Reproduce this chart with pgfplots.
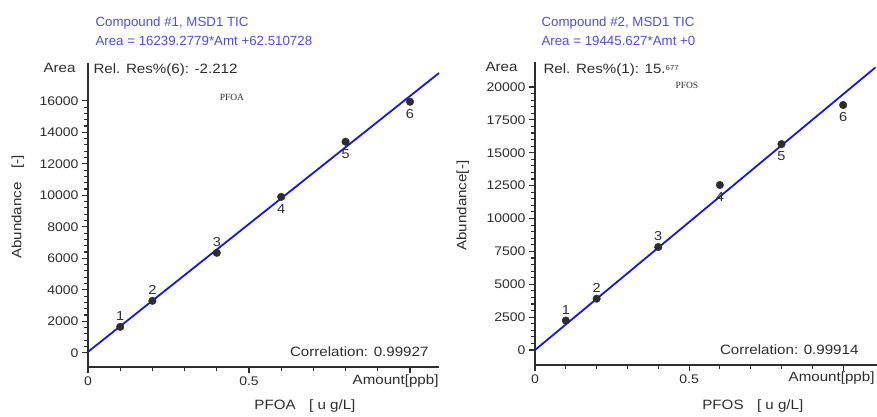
\documentclass[border=0pt]{standalone}
\usepackage{fontspec}
\setmainfont{Liberation Sans}
\newfontfamily\wide[FakeStretch=1.12]{Liberation Sans}
\newfontfamily\smallserif{Liberation Serif}
\usepackage{pgfplots}
\pgfplotsset{compat=1.18}
\definecolor{fitblue}{RGB}{20,20,235}
\definecolor{titleblue}{RGB}{75,75,245}
\definecolor{axisgray}{RGB}{45,45,45}

\tikzset{
  txt/.style={text=axisgray, font=\wide\fontsize{13.5}{15}\selectfont},
  ttl/.style={anchor=base west, text=titleblue, font=\fontsize{13.3}{15}\selectfont},
  tiny/.style={text=axisgray, font=\smallserif\fontsize{9.5}{11}\selectfont},
}

\pgfplotsset{
  calib/.style={
    scale only axis,
    axis lines*=left,
    clip=false,
    axis line style={axisgray, line width=1.4pt},
    tick style={axisgray, line width=1.1pt},
    tick align=outside,
    major tick length=6pt,
    minor tick length=4pt,
    minor x tick num=4,
    minor y tick num=4,
    /pgf/number format/1000 sep={},
    /pgf/number format/assume math mode=true,
    scaled y ticks=false,
    tick label style={font=\wide\fontsize{12.5}{14}\selectfont, text=axisgray},
    xtick={0,0.5,1},
    xticklabels={0,0.5,{}},
    xmin=0,
  },
  fitline/.style={fitblue, line width=1.8pt, no marks},
  pts/.style={only marks, mark=*, mark size=3.8pt, axisgray,
    point meta=explicit symbolic, nodes near coords,
    every node near coord/.append style={font=\wide\fontsize{13}{15}\selectfont, text=axisgray}},
  ptsup/.style={pts, every node near coord/.append style={anchor=south, yshift=3pt}},
  ptsdown/.style={pts, every node near coord/.append style={anchor=north, yshift=-4pt}},
}

\begin{document}
\begin{tikzpicture}
\useasboundingbox (0pt,0pt) rectangle (877pt,416pt);

% left panel: PFOA
\begin{axis}[calib, at={(88pt,49pt)}, anchor=south west, width=351pt, height=304pt,
  xmax=1.09, ymin=-900, ymax=18400,
  ytick={0,2000,4000,6000,8000,10000,12000,14000,16000}]
  \addplot[fitline] coordinates {(0,62.51) (1.09,17763.4)};
  \addplot[ptsup] coordinates {(0.1,1650) [1] (0.2,3300) [2] (0.4,6350) [3]};
  \addplot[ptsdown] coordinates {(0.6,9900) [4] (0.8,13400) [5] (1.0,15940) [6]};
  \node[ttl] at ([xshift=4pt, yshift=36.5pt]rel axis cs:0,1) {Compound \#1, MSD1 TIC};
  \node[ttl] at ([xshift=4pt, yshift=17.5pt]rel axis cs:0,1) {Area = 16239.2779*Amt +62.510728};
  \node[txt, anchor=east] at ([xshift=-9pt, yshift=-5pt]rel axis cs:0,1) {Area};
  \node[txt, anchor=west] at ([xshift=2pt, yshift=-7pt]rel axis cs:0,1) {Rel. Res\%(6): -2.212};
  \node[tiny] at (rel axis cs:0.41,0.888) {PFOA};
  \node[txt, anchor=east] at ([xshift=-7pt, yshift=15pt]rel axis cs:1,0) {Correlation: 0.99927};
  \node[txt, anchor=east] at ([xshift=3pt, yshift=-14pt]rel axis cs:1,0) {Amount[ppb]};
  \node[txt] at ([yshift=-39pt]rel axis cs:0.618,0) {PFOA\quad[ u g/L]};
  \node[txt, rotate=90] at ([xshift=-70pt]rel axis cs:0,0.526) {Abundance\quad[-]};
\end{axis}

% right panel: PFOS
\begin{axis}[calib, at={(535pt,51pt)}, anchor=south west, width=342pt, height=303pt,
  xmax=1.11, ymin=-1140, ymax=21900,
  ytick={0,2500,5000,7500,10000,12500,15000,17500,20000}]
  \addplot[fitline] coordinates {(0,0) (1.105,21487.4)};
  \addplot[ptsup] coordinates {(0.1,2240) [1] (0.2,3900) [2] (0.4,7830) [3]};
  \addplot[ptsdown] coordinates {(0.6,12550) [4] (0.8,15660) [5] (1.0,18630) [6]};
  \node[ttl] at ([xshift=3pt, yshift=35pt]rel axis cs:0,1) {Compound \#2, MSD1 TIC};
  \node[ttl] at ([xshift=3pt, yshift=16pt]rel axis cs:0,1) {Area = 19445.627*Amt +0};
  \node[txt, anchor=east] at ([xshift=-14pt, yshift=-5pt]rel axis cs:0,1) {Area};
  \node[txt, anchor=west] at ([xshift=5pt, yshift=-8pt]rel axis cs:0,1) {Rel. Res\%(1): 15.\raisebox{3pt}{\fontsize{7}{8}\selectfont 677}};
  \node[tiny] at (rel axis cs:0.444,0.924) {PFOS};
  \node[txt, anchor=east] at ([xshift=-15pt, yshift=15pt]rel axis cs:1,0) {Correlation: 0.99914};
  \node[txt, anchor=east] at ([xshift=1pt, yshift=-13pt]rel axis cs:1,0) {Amount[ppb]};
  \node[txt] at ([yshift=-41pt]rel axis cs:0.637,0) {PFOS\quad[ u g/L]};
  \node[txt, rotate=90] at ([xshift=-72pt]rel axis cs:0,0.526) {Abundance[-]};
\end{axis}
\end{tikzpicture}
\end{document}
